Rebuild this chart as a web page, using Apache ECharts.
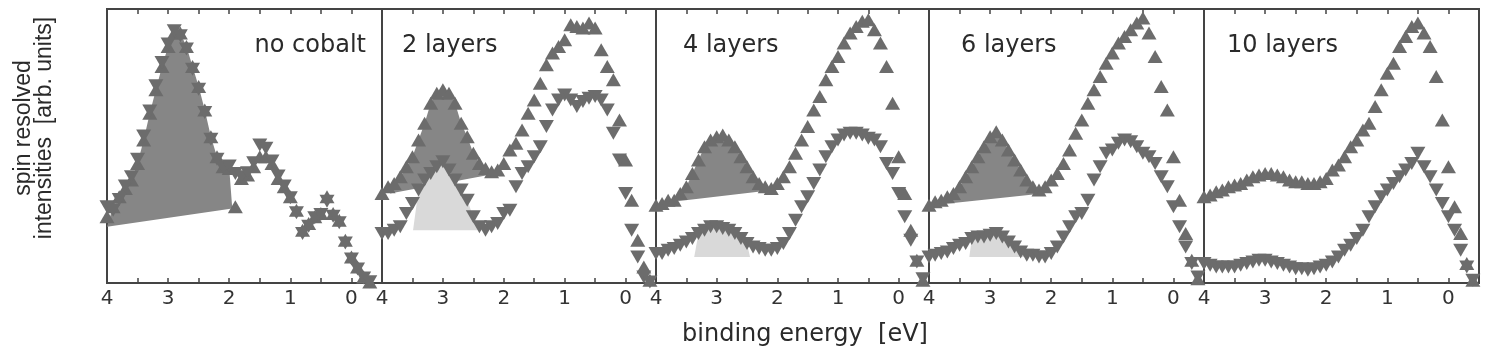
<!DOCTYPE html>
<html>
<head>
<meta charset="utf-8">
<script src="https://cdn.jsdelivr.net/npm/echarts@6/dist/echarts.min.js"></script>
<style>
html, body { margin: 0; padding: 0; background: #fff; }
#chart { width: 1486px; height: 354px; }
</style>
</head>
<body>
<div id="chart"></div>
<script>
// binding energy grid (eV), same for every panel
var energy = [4.0, 3.9, 3.8, 3.7, 3.6, 3.5, 3.4, 3.3, 3.2, 3.1, 3.0, 2.9, 2.8, 2.7, 2.6, 2.5, 2.4, 2.3, 2.2, 2.1,
              2.0, 1.9, 1.8, 1.7, 1.6, 1.5, 1.4, 1.3, 1.2, 1.1, 1.0, 0.9, 0.8, 0.7, 0.6, 0.5, 0.4, 0.3, 0.2, 0.1,
              0.0, -0.1, -0.2, -0.3, -0.4];

// spin up (▲) / spin down (▼) intensities, arb. units
var up1 = [198, 228, 258, 283, 308, 358, 428, 508, 578, 648, 708, 748, 748, 708, 648, 588, 518, 438, 378, 348,
           343, 228, 313, 323, 348, 378, 378, 358, 313, 288, 258, 218, 158, 178, 198, 208, 258, 208, 188, 128,
           78, 48, 18, 3, null];
var down1 = [228, 218, 250, 290, 318, 370, 440, 515, 590, 660, 715, 755, 740, 700, 640, 580, 510, 430, 370, 345,
             350, 328, 318, 330, 360, 413, 403, 365, 320, 290, 255, 210, 148, 170, 195, 205, 245, 200, 180, 120,
             72, 42, 15, 4, null];
var up2 = [268, 288, 298, 318, 348, 378, 428, 478, 538, 568, 578, 568, 538, 478, 438, 388, 358, 343, 333, 338,
           358, 398, 418, 458, 508, 548, 598, 653, 688, 708, 728, 773, 768, 763, 778, 763, 698, 648, 608, 488,
           368, 248, 128, 48, 8];
var down2 = [148, 148, 158, 168, 208, 238, 278, 308, 328, 348, 363, 338, 308, 278, 248, 198, 168, 158, 168, 178,
             208, 218, 288, 328, 348, 378, 408, 468, 518, 548, 563, 548, 528, 543, 553, 558, 548, 518, 448, 368,
             268, 158, 78, 18, 3];
var up3 = [233, 238, 248, 248, 268, 288, 328, 368, 408, 428, 438, 443, 428, 408, 378, 348, 318, 298, 288, 283,
           298, 318, 348, 388, 428, 468, 518, 558, 608, 648, 678, 718, 748, 768, 783, 788, 758, 718, 648, 538,
           378, 268, 158, 68, 8];
var down3 = [88, 88, 98, 103, 113, 123, 133, 148, 158, 168, 168, 163, 158, 148, 133, 118, 108, 103, 98, 98,
             103, 118, 148, 188, 228, 258, 298, 338, 378, 408, 428, 443, 448, 448, 443, 433, 428, 408, 358, 328,
             268, 198, 128, 63, 13];
var up4 = [233, 243, 248, 258, 268, 288, 318, 348, 378, 408, 438, 453, 428, 398, 368, 338, 308, 288, 278, 288,
           308, 328, 358, 398, 448, 488, 538, 578, 618, 658, 688, 718, 738, 758, 778, 793, 748, 678, 588, 518,
           378, 248, 148, 68, 13];
var down4 = [78, 83, 88, 93, 103, 113, 118, 133, 138, 138, 143, 148, 138, 123, 108, 93, 83, 83, 78, 78,
             88, 108, 138, 168, 198, 208, 248, 308, 348, 388, 398, 418, 428, 423, 408, 388, 378, 358, 318, 288,
             228, 168, 108, 58, 18];
var up5 = [258, 263, 273, 278, 288, 293, 298, 308, 318, 323, 328, 328, 323, 318, 308, 303, 303, 298, 298, 303,
           313, 338, 353, 378, 408, 428, 458, 478, 528, 578, 628, 658, 708, 738, 768, 778, 748, 708, 618, 488,
           348, 228, 148, 58, 8];
var down5 = [58, 53, 48, 48, 48, 48, 53, 58, 63, 68, 68, 63, 58, 53, 48, 43, 43, 38, 43, 48,
             53, 63, 78, 98, 113, 133, 158, 198, 228, 258, 278, 298, 318, 338, 358, 388, 348, 318, 278, 238,
             198, 158, 98, 48, 8];

// straight baselines under the shaded peaks: [start, end] in (eV, intensity)
var darkBase1 = [[4.0, 168], [1.95, 223]];
var darkBase2 = [[3.87, 268], [2.12, 328]];
var darkBase3 = [[3.97, 238], [2.07, 278]];
var darkBase4 = [[3.95, 233], [2.14, 268]];
var lightBase2 = [[3.49, 158], [2.34, 158]];
var lightBase3 = [[3.37, 78], [2.45, 78]];
var lightBase4 = [[3.34, 78], [2.42, 78]];

var panelNames = ['no cobalt', '2 layers', '4 layers', '6 layers', '10 layers'];
var xTicks = [-0.5, 4];

var upData = [up1, up2, up3, up4, up5];
var downData = [down1, down2, down3, down4, down5];
var darkBases = [darkBase1, darkBase2, darkBase3, darkBase4, null];
var lightBases = [null, lightBase2, lightBase3, lightBase4, null];

// layout: panel edges are shared, last value is the right edge
var panelEdges = [107, 382, 656, 929, 1204, 1479];
var panelTop = 9;
var panelHeight = 274;
var titleX = [366, 402, 683, 961, 1227];
var titleAlign = ['right', 'left', 'left', 'left', 'left'];

var markerColor = '#6c6c6c';
var frameColor = '#444';

function points(vals) {
    var out = [];
    for (var i = 0; i < energy.length; i++) {
        if (vals[i] != null) out.push([energy[i], vals[i]]);
    }
    return out;
}

// baseline start, the measured points between, baseline end
function peakPolygon(base, vals) {
    var pts = [base[0]];
    for (var i = 0; i < energy.length; i++) {
        if (energy[i] < base[0][0] && energy[i] > base[1][0] && vals[i] != null) pts.push([energy[i], vals[i]]);
    }
    pts.push(base[1]);
    return pts;
}

function fillSeries(idx, poly, color, z) {
    return {
        type: 'custom',
        xAxisIndex: idx * 2,
        yAxisIndex: idx,
        data: poly,
        silent: true,
        z: z,
        renderItem: function (params, api) {
            if (params.dataIndex !== 0) return;
            var pts = poly.map(function (p) { return api.coord(p); });
            return { type: 'polygon', shape: { points: pts }, style: { fill: color } };
        }
    };
}

var grids = [], xAxes = [], yAxes = [], series = [], graphics = [];

for (var i = 0; i < 5; i++) {
    grids.push({
        left: panelEdges[i], top: panelTop, width: panelEdges[i + 1] - panelEdges[i], height: panelHeight,
        show: true, borderColor: frameColor, borderWidth: 2, backgroundColor: 'transparent'
    });
    // bottom axis with labels, top axis ticks only
    xAxes.push({
        gridIndex: i, type: 'value', min: xTicks[0], max: xTicks[1], interval: 0.5, inverse: true,
        axisLine: { show: false },
        axisTick: { inside: true, length: 5, lineStyle: { color: frameColor, width: 1.5 } },
        axisLabel: {
            margin: 6, color: '#333', fontSize: 20, fontFamily: 'DejaVu Sans',
            formatter: function (v) { return Number.isInteger(v) ? String(v) : ''; }
        },
        splitLine: { show: false }
    });
    xAxes.push({
        gridIndex: i, type: 'value', position: 'top', min: xTicks[0], max: xTicks[1], interval: 0.5, inverse: true,
        axisLine: { show: false },
        axisTick: { inside: true, length: 5, lineStyle: { color: frameColor, width: 1.5 } },
        axisLabel: { show: false },
        splitLine: { show: false }
    });
    yAxes.push({ gridIndex: i, type: 'value', min: 0, max: 820, show: false });

    if (darkBases[i]) series.push(fillSeries(i, peakPolygon(darkBases[i], upData[i]), '#868686', 1));
    if (lightBases[i]) series.push(fillSeries(i, peakPolygon(lightBases[i], downData[i]), '#d9d9d9', 2));

    series.push({
        type: 'scatter', name: 'up', xAxisIndex: i * 2, yAxisIndex: i, data: points(upData[i]),
        symbol: 'triangle', symbolSize: [15, 13], clip: false, z: 3,
        itemStyle: { color: markerColor, opacity: 1 }
    });
    series.push({
        type: 'scatter', name: 'down', xAxisIndex: i * 2, yAxisIndex: i, data: points(downData[i]),
        symbol: 'triangle', symbolSize: [15, 13], symbolRotate: 180, clip: false, z: 3,
        itemStyle: { color: markerColor, opacity: 1 }
    });

    graphics.push({
        type: 'text', x: titleX[i], y: 46, z: 10,
        style: {
            text: panelNames[i], fill: '#2a2a2a', font: '24px "DejaVu Sans"',
            textAlign: titleAlign[i], textVerticalAlign: 'middle'
        }
    });
}

graphics.push({
    type: 'text', x: 805, y: 335,
    style: { text: 'binding energy  [eV]', fill: '#2a2a2a', font: '24px "DejaVu Sans"', textAlign: 'center', textVerticalAlign: 'middle' }
});
graphics.push({
    type: 'text', x: 34, y: 128, rotation: Math.PI / 2,
    style: {
        text: 'spin resolved\nintensities  [arb. units]', fill: '#2a2a2a', font: '23px "Liberation Sans"',
        lineHeight: 21, textAlign: 'center', textVerticalAlign: 'middle'
    }
});

var chart = echarts.init(document.getElementById('chart'), null, { renderer: 'canvas' });
chart.setOption({
    animation: false,
    backgroundColor: '#fff',
    grid: grids,
    xAxis: xAxes,
    yAxis: yAxes,
    series: series,
    graphic: graphics
});
</script>
</body>
</html>
